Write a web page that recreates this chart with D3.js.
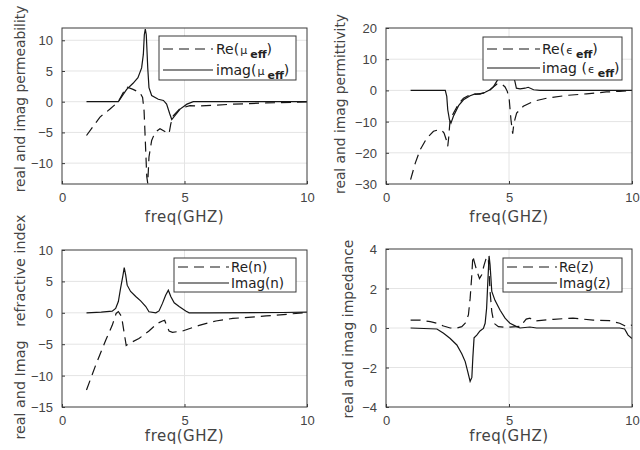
<!DOCTYPE html>
<html>
<head>
<meta charset="utf-8">
<script src="https://cdn.jsdelivr.net/npm/d3@7"></script>
<style>
  body { margin: 0; background: #fff; }
  svg { display: block; font-family: "DejaVu Sans", sans-serif; }
  .tick-label { font-size: 13px; fill: #444; }
  .axis-title { font-size: 15px; fill: #444; letter-spacing: 0.5px; }
  .y-title { font-size: 14px; fill: #444; }
  .legend-text { font-size: 14px; fill: #222; }
  .grid-line { stroke: #e4e4e4; stroke-width: 1; }
  .frame { fill: none; stroke: #3a3a3a; stroke-width: 1; }
  .line { fill: none; stroke: #151515; stroke-width: 1.2; }
  .dashed { stroke-dasharray: 10,6; }
</style>
</head>
<body>
<svg id="chart" width="640" height="450"></svg>
<script>
// permeability (mu_eff)
const muFreqRe = [1.0, 1.55, 1.96, 2.3, 2.5, 2.64, 2.9, 3.18, 3.29, 3.35, 3.4, 3.46, 3.5, 3.55, 3.66, 3.8, 4.0, 4.27, 4.37, 4.44, 4.54, 4.82, 5.22, 5.63, 7.0, 8.35, 9.4, 10];
const muRe     = [-5.5, -2.5, -1.2, 0, 1.5, 2.4, 2.0, 1.5, 0.7, -1.5, -6.3, -12.2, -13.3, -9, -6.3, -5, -4.4, -5, -5.2, -3.6, -2.3, -1.1, -0.65, -0.7, -0.4, -0.2, -0.1, -0.05];
const muFreqIm = [1.0, 2.3, 2.5, 2.64, 2.9, 3.1, 3.25, 3.32, 3.36, 3.4, 3.44, 3.5, 3.55, 3.66, 3.93, 4.14, 4.27, 4.4, 4.48, 4.6, 4.82, 5.1, 5.36, 10];
const muIm     = [0, 0, 1.2, 2, 3, 3.9, 5.5, 7.7, 10.9, 11.8, 10.9, 5.5, 2.3, 1, 0.4, 0.2, -0.4, -2, -2.9, -2.3, -1.2, -0.4, 0, 0];

// permittivity (eps_eff)
const epsFreqRe = [1.0, 1.19, 1.39, 1.66, 1.93, 2.14, 2.27, 2.36, 2.45, 2.51, 2.55, 2.6, 2.74, 2.95, 3.15, 3.42, 3.69, 3.96, 4.16, 4.36, 4.5, 4.7, 4.84, 4.93, 5.01, 5.08, 5.15, 5.2, 5.31, 5.58, 5.99, 6.53, 7.34, 8.15, 8.96, 9.5, 10];
const epsRe     = [-28.6, -23.3, -19, -15.3, -13.1, -12.6, -12.8, -13.7, -15.8, -17.9, -15, -9.9, -7.3, -4.3, -2.5, -1.4, -1.2, -0.9, -0.3, 1.1, 2.0, 2.1, 1.1, -0.3, -3, -9.4, -13.9, -10.5, -7.3, -5.1, -3.5, -2.5, -1.6, -1.1, -0.5, -0.3, -0.1];
const epsFreqIm = [1.0, 2.41, 2.47, 2.51, 2.58, 2.64, 2.74, 2.95, 3.15, 3.42, 3.62, 3.82, 4.03, 4.23, 4.36, 4.5, 4.7, 4.95, 5.15, 5.24, 5.3, 5.45, 5.65, 5.78, 6.0, 6.26, 10];
const epsIm     = [0, 0, -1.9, -6.2, -9.4, -10.5, -8.3, -4.9, -3, -1.7, -1.1, -1.2, -0.6, 0.2, 1.1, 2.9, 5.5, 8, 5.5, 2.9, 0.7, 0.5, 0.7, 1, 0.2, 0, 0];

// refractive index (n)
const nFreqRe = [1.0, 1.37, 1.78, 2.05, 2.21, 2.3, 2.43, 2.53, 2.62, 2.73, 3.14, 3.55, 3.89, 4.1, 4.19, 4.27, 4.37, 4.51, 4.92, 5.6, 6.28, 6.97, 8.33, 9.29, 10];
const nRe     = [-12.3, -8.4, -4.4, -2, -0.1, 0.2, -0.6, -3, -5.2, -4.9, -4.1, -2.9, -1.7, -1.3, -1.2, -2, -2.9, -3.1, -2.9, -2, -1.3, -0.9, -0.5, -0.2, 0.05];
const nFreqIm = [1.0, 1.6, 2.05, 2.19, 2.3, 2.39, 2.49, 2.54, 2.6, 2.66, 2.8, 3.01, 3.21, 3.42, 3.55, 3.83, 3.96, 4.1, 4.23, 4.34, 4.44, 4.58, 4.78, 5.05, 5.19, 6.0, 9.0, 10];
const nIm     = [0, 0.1, 0.27, 0.7, 1.8, 3.9, 6, 7.2, 6, 4.4, 3.4, 2.6, 1.9, 1, 0.16, 0, 0.3, 1.5, 2.8, 3.6, 2.6, 1.6, 1, 0.27, 0, 0, 0.05, 0.1];

// impedance (z)
const zFreqRe = [1.0, 1.39, 1.8, 2.07, 2.34, 2.61, 2.88, 3.08, 3.22, 3.35, 3.42, 3.49, 3.53, 3.58, 3.69, 3.8, 3.89, 3.99, 4.09, 4.16, 4.23, 4.3, 4.39, 4.57, 4.9, 5.31, 5.51, 5.6, 5.7, 5.85, 5.99, 6.8, 7.6, 8.42, 9.09, 9.5, 9.77, 10];
const zRe     = [0.4, 0.4, 0.32, 0.24, 0.1, 0, 0, 0.07, 0.24, 0.66, 1.5, 2.7, 3.65, 3.4, 2.9, 2.5, 2.7, 3.2, 3.6, 3.5, 1.85, 0.83, 0.24, 0.07, 0.03, 0.07, 0.1, 0.3, 0.45, 0.5, 0.35, 0.44, 0.5, 0.4, 0.37, 0.24, 0.07, 0.15];
const zFreqIm = [1.0, 2.07, 2.34, 2.61, 2.88, 3.08, 3.22, 3.32, 3.42, 3.49, 3.53, 3.58, 3.69, 3.82, 3.96, 4.03, 4.09, 4.14, 4.19, 4.23, 4.3, 4.43, 4.64, 4.84, 5.04, 5.31, 5.45, 5.85, 6.12, 9.5, 9.7, 9.84, 10];
const zIm     = [0, -0.05, -0.27, -0.53, -0.86, -1.3, -1.7, -2.2, -2.7, -2.5, -1.5, -0.5, -0.36, -0.15, -0.02, 0.24, 1, 2.36, 3.65, 3.2, 1.85, 1.4, 0.9, 0.5, 0.24, 0.07, 0, 0.05, 0, 0, -0.05, -0.36, -0.53];

const xTicks = [0, 5, 10];
const muTicks = [-10, -5, 0, 5, 10];
const epsTicks = [-30, -20, -10, 0, 10, 20];
const nTicks = [-15, -10, -5, 0, 5, 10];
const zTicks = [-4, -2, 0, 2, 4];

const xLabel = "freq(GHZ)";

const panels = [
  { left: 62, right: 307, top: 28, bottom: 184, yDomain: [-13.4, 12], yTicks: muTicks,
    yTitle: "real and imag permeability", yTitleX: 25, yTitleY: 99, yTitleSize: 13.8, xTitleY: 222,
    series: [{ f: muFreqRe, v: muRe, dash: true }, { f: muFreqIm, v: muIm, dash: false }],
    legend: { x: 159, y: 36, w: 137, h: 44, rows: [49, 70], s0: 163, s1: 213, tx: 216, fs: 14,
      labels: [["Re(", "μ", "eff", ")"], ["imag(", "μ", "eff", ")"]] } },
  { left: 386, right: 632, top: 28, bottom: 184, yDomain: [-30, 20], yTicks: epsTicks,
    yTitle: "real and imag permittivity", yTitleX: 345, yTitleY: 104, yTitleSize: 13.8, xTitleY: 222,
    series: [{ f: epsFreqRe, v: epsRe, dash: true }, { f: epsFreqIm, v: epsIm, dash: false }],
    legend: { x: 483, y: 37, w: 139, h: 43, rows: [49, 68], s0: 487, s1: 540, tx: 542, fs: 14,
      labels: [["Re(", "ϵ", "eff", ")"], ["imag (", "ϵ", "eff", ")"]] } },
  { left: 62, right: 307, top: 250, bottom: 407, yDomain: [-15, 10], yTicks: nTicks,
    yTitle: "real and Imag   refractive index", yTitleX: 25, yTitleY: 327, yTitleSize: 14.3, xTitleY: 441,
    series: [{ f: nFreqRe, v: nRe, dash: true }, { f: nFreqIm, v: nIm, dash: false }],
    legend: { x: 174, y: 258, w: 122, h: 34, rows: [267, 283], s0: 178, s1: 229, tx: 231, fs: 13.5,
      labels: [["Re(n)"], ["Imag(n)"]] } },
  { left: 386, right: 632, top: 249, bottom: 407, yDomain: [-4, 4], yTicks: zTicks,
    yTitle: "real and imag impedance", yTitleX: 353, yTitleY: 329, yTitleSize: 14, xTitleY: 441,
    series: [{ f: zFreqRe, v: zRe, dash: true }, { f: zFreqIm, v: zIm, dash: false }],
    legend: { x: 503, y: 258, w: 119, h: 34, rows: [267, 283], s0: 507, s1: 557, tx: 559, fs: 13.5,
      labels: [["Re(z)"], ["Imag(z)"]] } },
];

const svg = d3.select("#chart");

panels.forEach((p, i) => drawPanel(p, i));

function drawPanel(p, i) {
  const x = d3.scaleLinear().domain([0, 10]).range([p.left, p.right]);
  const y = d3.scaleLinear().domain(p.yDomain).range([p.bottom, p.top]);
  const g = svg.append("g");

  // grid
  g.selectAll("line.gy").data(p.yTicks.filter((t) => y(t) > p.top + 1 && y(t) < p.bottom - 1)).join("line")
    .attr("class", "grid-line").attr("x1", p.left).attr("x2", p.right)
    .attr("y1", (d) => y(d)).attr("y2", (d) => y(d));
  g.selectAll("line.gx").data(xTicks.slice(1, -1)).join("line")
    .attr("class", "grid-line").attr("y1", p.top).attr("y2", p.bottom)
    .attr("x1", (d) => x(d)).attr("x2", (d) => x(d));

  // axes (inside ticks, MATLAB style)
  const ax = d3.axisBottom(x).tickValues(xTicks).tickSize(-3).tickPadding(9).tickFormat(d3.format("d"));
  const ay = d3.axisLeft(y).tickValues(p.yTicks).tickSize(-3).tickPadding(9).tickFormat(d3.format("d"));
  const gx = g.append("g").attr("transform", `translate(0,${p.bottom})`).call(ax);
  const gy = g.append("g").attr("transform", `translate(${p.left},0)`).call(ay);
  [gx, gy].forEach((a) => {
    a.select(".domain").remove();
    a.selectAll(".tick line").attr("stroke", "#3a3a3a");
    a.selectAll(".tick text").attr("class", "tick-label").attr("font-family", null).attr("font-size", null).attr("fill", null);
  });
  gy.selectAll(".tick text").attr("dy", "0.35em");

  // curves
  svg.append("defs").append("clipPath").attr("id", `clip${i}`)
    .append("rect").attr("x", p.left).attr("y", p.top).attr("width", p.right - p.left).attr("height", p.bottom - p.top);
  const line = d3.line().x((d) => x(d[0])).y((d) => y(d[1]));
  p.series.forEach((s) => {
    g.append("path").datum(d3.zip(s.f, s.v))
      .attr("class", "line" + (s.dash ? " dashed" : ""))
      .attr("clip-path", `url(#clip${i})`).attr("d", line);
  });

  g.append("rect").attr("class", "frame")
    .attr("x", p.left).attr("y", p.top).attr("width", p.right - p.left).attr("height", p.bottom - p.top);

  // titles
  g.append("text").attr("class", "axis-title").attr("x", (p.left + p.right) / 2).attr("y", p.xTitleY)
    .attr("text-anchor", "middle").text(xLabel);
  g.append("text").attr("class", "y-title").attr("text-anchor", "middle").style("font-size", `${p.yTitleSize}px`)
    .attr("transform", `translate(${p.yTitleX},${p.yTitleY}) rotate(-90)`).style("white-space", "pre").text(p.yTitle);

  legend(g, p.legend);
}

function legend(g, L) {
  const lg = g.append("g");
  lg.append("rect").attr("x", L.x).attr("y", L.y).attr("width", L.w).attr("height", L.h)
    .attr("fill", "#fff").attr("stroke", "#3a3a3a").attr("stroke-width", 1);
  L.rows.forEach((ry, k) => {
    lg.append("line").attr("class", "line" + (k === 0 ? " dashed" : ""))
      .attr("x1", L.s0).attr("x2", L.s1).attr("y1", ry).attr("y2", ry);
    const t = lg.append("text").attr("class", "legend-text").style("font-size", `${L.fs}px`)
      .attr("x", L.tx).attr("y", ry + 5);
    const parts = L.labels[k];
    if (parts.length === 1) { t.text(parts[0]); return; }
    t.append("tspan").text(parts[0]);
    t.append("tspan").attr("font-size", "11px").attr("dx", 1).text(parts[1]);
    t.append("tspan").attr("font-size", "11px").attr("font-weight", "bold").attr("dx", 3).attr("dy", 4).text(parts[2]);
    t.append("tspan").attr("dy", -4).text(parts[3]);
  });
}
</script>
</body>
</html>
